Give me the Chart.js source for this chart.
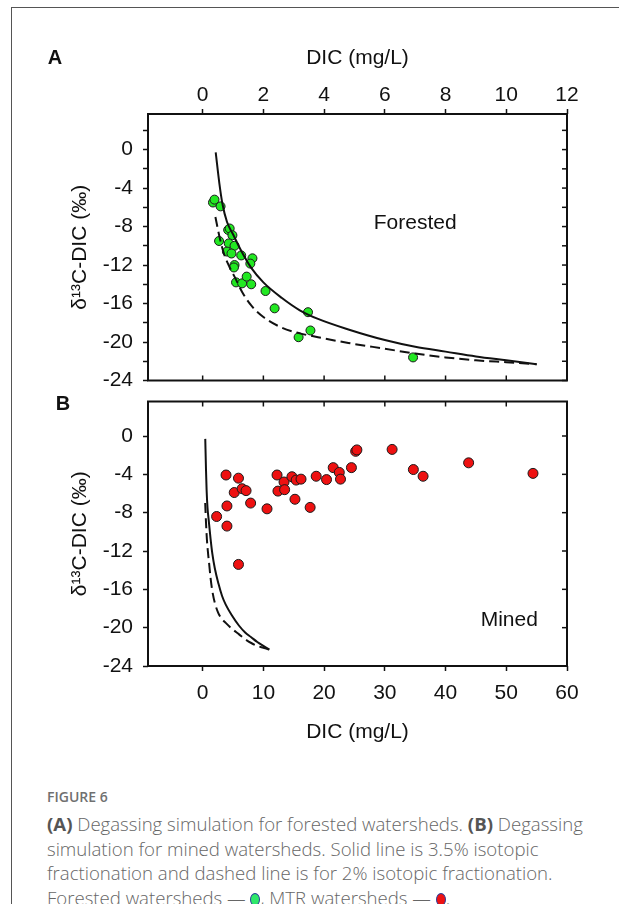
<!DOCTYPE html>
<html><head><meta charset="utf-8">
<script src="https://cdn.jsdelivr.net/npm/chart.js@4.4.1/dist/chart.umd.min.js"></script>
<style>
html,body{margin:0;padding:0;background:#fff;}
body{width:619px;height:904px;position:relative;overflow:hidden;}
#frame{position:absolute;left:11px;top:7px;width:700px;height:1000px;border:1px solid #555;box-sizing:border-box;}
canvas{position:absolute;left:0;}
#cA{top:0;}
#cB{top:381px;}
.panel{position:absolute;font-family:"Liberation Sans",Arial,sans-serif;font-weight:bold;font-size:20px;color:#111;transform:translate(-50%,-50%);line-height:1;}
#fig{position:absolute;left:47px;top:789px;font-family:"Open Sans",sans-serif;font-size:14px;line-height:16px;font-weight:600;color:#707070;}
#caption{position:absolute;left:47px;top:812px;font-family:"Open Sans",sans-serif;font-size:18.6px;line-height:24.5px;color:#666;white-space:nowrap;font-weight:300;}
#caption b{color:#555;font-weight:700;}
.dot{display:inline-block;width:8px;height:11px;border-radius:50%;border:1.5px solid #2a3d9a;vertical-align:-1px;}
</style></head>
<body>
<div id="frame"></div>
<canvas id="cA" width="619" height="401"></canvas>
<canvas id="cB" width="619" height="389"></canvas>
<div class="panel" style="left:55px;top:57px;">A</div>
<div class="panel" style="left:63px;top:403px;">B</div>
<div id="fig">FIGURE 6</div>
<div id="caption"><b>(A)</b> Degassing simulation for forested watersheds. <b>(B)</b> Degassing<br>simulation for mined watersheds. Solid line is 3.5% isotopic<br>fractionation and dashed line is for 2% isotopic fractionation.<br>Forested watersheds — <span class="dot" style="background:#2ee86a"></span>, MTR watersheds — <span class="dot" style="background:#ee1111"></span>.</div>
<script>
// ---- data ----
const forestedDIC  = [0.34,0.39,0.59,0.54,0.84,0.89,0.98,0.86,1.05,0.80,0.95,1.27,1.05,1.03,1.64,1.57,1.10,1.30,1.45,1.60,2.07,2.37,3.47,3.55,3.16,6.93];
const forestedD13C = [-5.5,-5.2,-5.9,-9.5,-8.35,-8.2,-8.9,-9.75,-10.0,-10.6,-10.8,-11.0,-12.0,-12.25,-11.3,-11.85,-13.8,-13.9,-13.2,-14.0,-14.7,-16.5,-16.9,-18.8,-19.5,-21.6];
const minedDIC  = [2.3,3.85,4.0,4.0,5.9,5.2,6.5,7.15,7.9,5.9,10.6,12.25,12.4,13.4,13.5,14.7,15.4,16.2,15.2,17.7,18.7,20.4,21.5,22.5,22.7,24.5,25.2,25.4,31.2,34.7,36.3,43.8,54.4];
const minedD13C = [-8.4,-4.07,-7.3,-9.4,-4.4,-5.9,-5.5,-5.7,-7.0,-13.4,-7.6,-4.07,-5.75,-4.8,-5.6,-4.25,-4.6,-4.5,-6.6,-7.45,-4.2,-4.55,-3.3,-3.8,-4.5,-3.3,-1.6,-1.45,-1.4,-3.5,-4.2,-2.8,-3.9];
// simulation curves (3.5% solid, 2% dashed)
const solidDIC  = [0.43,0.55,0.65,0.8,1.0,1.3,1.6,2.0,2.6,3.2,3.8,4.8,6.0,7.0,8.0,9.0,10.0,11.0];
const solidD13C = [-0.3,-3.5,-5.6,-7.5,-8.8,-10.7,-12.3,-13.8,-15.4,-16.7,-17.6,-18.7,-19.8,-20.5,-21.0,-21.5,-21.9,-22.3];
const dashedDIC  = [0.42,0.55,0.7,0.9,1.05,1.3,1.6,2.0,2.6,3.2,3.8,4.8,6.0,7.0,8.0,9.0,10.0,11.0];
const dashedD13C = [-7.0,-9.0,-10.8,-12.3,-13.2,-14.8,-16.2,-17.4,-18.5,-19.1,-19.5,-20.1,-20.7,-21.2,-21.6,-21.9,-22.1,-22.3];
// tick labels
const xTicksA = [0,2,4,6,8,10,12];
const xTicksB = [0,10,20,30,40,50,60];
const yTicksA = [2,0,-2,-4,-6,-8,-10,-12,-14,-16,-18,-20,-22,-24];
const yTicksB = [0,-4,-8,-12,-16,-20,-24];

const pts = (xs, ys) => xs.map((x, i) => ({x, y: ys[i]}));
const FONT = '"Liberation Sans", Arial, sans-serif';

const framePlugin = {
  id: 'frameTicks',
  afterDraw(chart, args, o) {
    const ctx = chart.ctx, a = chart.chartArea, xs = chart.scales.x, ys = chart.scales.y;
    ctx.save();
    ctx.strokeStyle = '#111';
    ctx.lineWidth = 1.5;
    (o.innerX || []).forEach(v => {
      const px = xs.getPixelForValue(v);
      ctx.beginPath();
      if (o.innerXSide === 'bottom') { ctx.moveTo(px, a.bottom); ctx.lineTo(px, a.bottom - 5); }
      else { ctx.moveTo(px, a.top); ctx.lineTo(px, a.top + 5); }
      ctx.stroke();
    });
    (o.innerY || []).forEach(v => {
      const py = ys.getPixelForValue(v);
      ctx.beginPath(); ctx.moveTo(a.right, py); ctx.lineTo(a.right - 5, py); ctx.stroke();
    });
    ctx.lineWidth = 2;
    ctx.strokeRect(a.left, a.top, a.right - a.left, a.bottom - a.top);
    if (o.label) {
      ctx.fillStyle = '#111';
      ctx.font = '21px ' + FONT;
      ctx.textAlign = 'center'; ctx.textBaseline = 'middle';
      ctx.fillText(o.label.text, xs.getPixelForValue(o.label.x), ys.getPixelForValue(o.label.y));
    }
    ctx.restore();
  }
};

function makeChart(id, cfg) {
  const tickFont = {family: FONT, size: 21, lineHeight: 1};
  const titleFont = {family: FONT, size: 21};
  return new Chart(document.getElementById(id), {
    type: 'scatter',
    data: {datasets: [
      {data: pts(solidDIC, solidD13C), showLine: true, pointRadius: 0, borderColor: '#111', borderWidth: 2, cubicInterpolationMode: 'monotone'},
      {data: pts(dashedDIC, dashedD13C), showLine: true, pointRadius: 0, borderColor: '#111', borderWidth: 2, borderDash: [10, 5], cubicInterpolationMode: 'monotone'},
      {data: cfg.points, pointRadius: cfg.radius, pointBackgroundColor: cfg.color, pointBorderColor: '#1a1a1a', pointBorderWidth: 1, showLine: false}
    ]},
    options: {
      responsive: false, animation: false,
      layout: {padding: cfg.padding},
      plugins: {legend: {display: false}, tooltip: {enabled: false},
        frameTicks: {innerX: cfg.innerX, innerXSide: cfg.innerXSide, innerY: cfg.innerY, label: cfg.label}},
      scales: {
        x: {
          type: 'linear', position: cfg.xPos, min: cfg.xMin, max: cfg.xMax,
          border: {display: false},
          grid: {drawOnChartArea: false, tickLength: 5, tickWidth: 1.5, tickColor: '#111'},
          afterBuildTicks: s => { s.ticks = cfg.xTicks.map(v => ({value: v})); },
          afterFit: s => { s.height = cfg.xHeight; },
          ticks: {font: tickFont, color: '#111', padding: cfg.xPad, maxRotation: 0, autoSkip: false, callback: v => String(v)},
          title: {display: true, text: 'DIC (mg/L)', font: titleFont, color: '#111', padding: cfg.xTitlePad}
        },
        y: {
          type: 'linear', min: -24, max: cfg.yMax,
          border: {display: false},
          grid: {drawOnChartArea: false, tickLength: 5, tickWidth: 1.5, tickColor: '#111'},
          afterBuildTicks: s => { s.ticks = cfg.yTicks.map(v => ({value: v})); },
          afterFit: s => { s.width = 148; },
          ticks: {font: tickFont, color: '#111', padding: 10, autoSkip: false, callback: v => (Math.abs(v) % 4 === 0 ? String(v) : '')},
          title: {display: true, text: 'δ¹³C-DIC (‰)', font: titleFont, color: '#111', padding: {top: 68, bottom: 0}}
        }
      }
    },
    plugins: [framePlugin]
  });
}

makeChart('cA', {
  points: pts(forestedDIC, forestedD13C), color: '#22e822', radius: 4.5,
  padding: {left: 0, right: 52, top: 0, bottom: 1},
  xPos: 'top', xMin: -1.8, xMax: 12, xTicks: xTicksA, xHeight: 114, xPad: 3,
  xTitlePad: {top: 46, bottom: 0},
  yMax: 3.7, yTicks: yTicksA,
  innerX: xTicksA, innerXSide: 'bottom', innerY: yTicksA,
  label: {text: 'Forested', x: 7.0, y: -7.7}
});
makeChart('cB', {
  points: pts(minedDIC, minedD13C), color: '#ee1111', radius: 5,
  padding: {left: 0, right: 52, top: 0, bottom: 0},
  xPos: 'bottom', xMin: -9, xMax: 60, xTicks: xTicksB, xHeight: 104, xPad: 11.5,
  xTitlePad: {top: 0, bottom: 25},
  yMax: 3.6, yTicks: yTicksB,
  innerX: xTicksB, innerXSide: 'top', innerY: yTicksB,
  label: {text: 'Mined', x: 50.5, y: -19.2}
});
</script>
</body></html>
